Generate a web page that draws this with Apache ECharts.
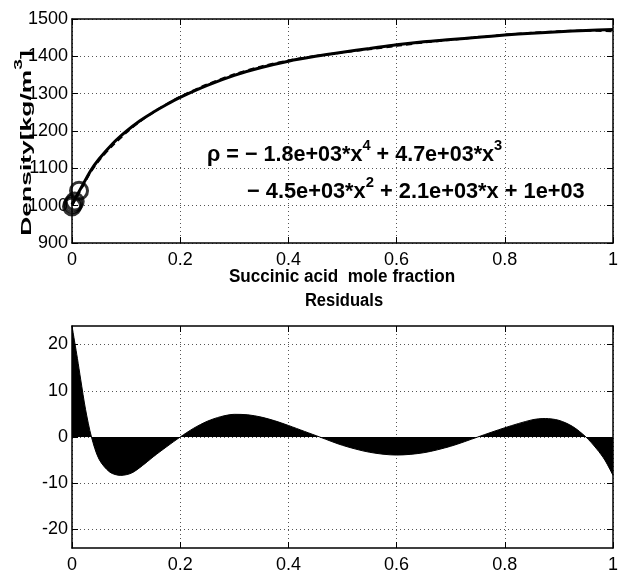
<!DOCTYPE html>
<html><head><meta charset="utf-8">
<script src="https://cdn.jsdelivr.net/npm/echarts@6/dist/echarts.min.js"></script>
<style>html,body{margin:0;padding:0;background:#fff}#c{width:621px;height:574px}</style>
</head><body><div id="c"></div>
<script>
// ---- data ----
const fitX = [0, 0.01, 0.02, 0.035, 0.05, 0.075, 0.1, 0.125, 0.15, 0.175, 0.2, 0.25, 0.3, 0.35, 0.4, 0.45, 0.5, 0.55, 0.6, 0.65, 0.7, 0.75, 0.8, 0.85, 0.9, 0.95, 1.0];
const fitY = [1003, 1030, 1056, 1095, 1125, 1166, 1199, 1227, 1250, 1271, 1290, 1322, 1349, 1370, 1387, 1400, 1411, 1421, 1431, 1439, 1445, 1451, 1457, 1462, 1466, 1469, 1472];
const dataX = [0, 0.01, 0.02, 0.035, 0.05, 0.075, 0.1, 0.125, 0.15, 0.175, 0.2, 0.25, 0.3, 0.35, 0.4, 0.45, 0.5, 0.55, 0.6, 0.65, 0.7, 0.75, 0.8, 0.85, 0.9, 0.95, 1.0];
const dataY = [1000, 1026, 1052, 1091, 1121, 1161, 1195, 1225, 1250, 1272, 1292, 1325, 1352, 1373, 1389, 1401, 1410, 1419, 1428, 1437, 1444, 1451, 1458, 1463, 1467, 1469, 1467];
const circleX = [0, 0.002, 0.005, 0.013];
const circleY = [998, 1004, 1011, 1040];
const residX = [0, 0.005, 0.01, 0.016, 0.025, 0.036, 0.05, 0.07, 0.09, 0.11, 0.13, 0.15, 0.175, 0.2, 0.225, 0.25, 0.275, 0.3, 0.325, 0.35, 0.375, 0.4, 0.43, 0.458, 0.5, 0.55, 0.6, 0.65, 0.7, 0.75, 0.8, 0.85, 0.875, 0.9, 0.925, 0.95, 0.97, 0.985, 1.0];
const residY = [24, 20.5, 17, 12.5, 6, 0, -4.8, -7.6, -8.3, -7.8, -6.2, -4.3, -2.1, 0, 1.9, 3.4, 4.4, 4.9, 4.8, 4.3, 3.5, 2.5, 1.2, 0, -1.8, -3.3, -3.9, -3.4, -2.0, 0, 2.0, 3.7, 4.0, 3.6, 2.3, 0, -2.6, -5.0, -8.3];
const residTicks = [-20, -10, 0, 10, 20];
const xLabel = 'Succinic acid  mole fraction';
const residTitle = 'Residuals';

const FONT = "'Liberation Sans', Arial, Helvetica, sans-serif";
const zip = (a, b) => a.map((v, i) => [v, b[i]]);
const gridLine = {show: true, lineStyle: {color: '#555', type: [1, 3], width: 1}};
const fmt = v => String(v);

function xAx(grid, pos, labels) {
  return {type: 'value', gridIndex: grid, position: pos, min: 0, max: 1, interval: 0.2,
    axisLine: {show: true, onZero: false, lineStyle: {color: '#000', width: 1.5}},
    axisTick: {show: true, inside: true, length: 6, lineStyle: {color: '#000', width: 1}},
    axisLabel: {show: labels, color: '#000', fontSize: 18, fontFamily: FONT, margin: 8, formatter: fmt},
    splitLine: labels ? gridLine : {show: false}};
}
function yAx(grid, pos, labels, extra) {
  return Object.assign({type: 'value', gridIndex: grid, position: pos,
    axisLine: {show: true, onZero: false, lineStyle: {color: '#000', width: 1.5}},
    axisTick: {show: true, inside: true, length: 6, lineStyle: {color: '#000', width: 1}},
    axisLabel: {show: labels, color: '#000', fontSize: 18, fontFamily: FONT, margin: 4, formatter: fmt},
    splitLine: labels ? gridLine : {show: false}}, extra);
}
const topY = {min: 900, max: 1500, interval: 100};
function botY() {
  return {min: -24, max: 24, interval: 2};
}

const supRich = (mSize, mLH, sSize) => ({
  m: {fontSize: mSize, fontWeight: 'bold', fontFamily: FONT, fill: '#000', lineHeight: mLH, verticalAlign: 'bottom'},
  s: {fontSize: sSize, fontWeight: 'bold', fontFamily: FONT, fill: '#000', lineHeight: sSize, verticalAlign: 'top'}
});

const chart = echarts.init(document.getElementById('c'), null, {renderer: 'canvas'});
const option = {
  animation: false,
  backgroundColor: '#fff',
  grid: [
    {left: 72, right: 4, top: 19, height: 224},
    {left: 72, right: 4, top: 326, height: 222}
  ],
  xAxis: [xAx(0, 'bottom', true), xAx(0, 'top', false), xAx(1, 'bottom', true), xAx(1, 'top', false)],
  yAxis: [
    yAx(0, 'left', true, topY),
    yAx(0, 'right', false, topY),
    (() => { const a = yAx(1, 'left', true, botY());
      a.axisLabel.customValues = residTicks; a.axisTick.customValues = residTicks; return a; })(),
    (() => { const a = yAx(1, 'right', false, botY());
      a.axisTick.customValues = residTicks; return a; })()
  ],
  series: [
    {type: 'line', xAxisIndex: 0, yAxisIndex: 0, data: zip(dataX, dataY), showSymbol: false, smooth: 0.3,
      lineStyle: {color: '#000', width: 2, type: [6, 4]}, z: 3},
    {type: 'line', xAxisIndex: 0, yAxisIndex: 0, data: zip(fitX, fitY), showSymbol: false, smooth: 0.3,
      lineStyle: {color: '#000', width: 3}, z: 4},
    {type: 'scatter', xAxisIndex: 0, yAxisIndex: 0, data: zip(circleX, circleY), symbol: 'circle', symbolSize: 17,
      itemStyle: {color: 'rgba(0,0,0,0)', borderColor: '#000', borderWidth: 3}, z: 5},
    {type: 'line', xAxisIndex: 2, yAxisIndex: 2, data: zip(residX, residY), showSymbol: false, smooth: 0.3,
      lineStyle: {color: '#000', width: 1}, areaStyle: {color: '#000', opacity: 1, origin: 0}, z: 3}
  ],
  graphic: [
    {type: 'text', x: 342, y: 277, scaleX: 0.95, z: 10,
      style: {text: xLabel, font: 'bold 18px ' + FONT, fill: '#000', align: 'center', verticalAlign: 'middle'}},
    {type: 'text', x: 344, y: 301, scaleX: 0.92, z: 10,
      style: {text: residTitle, font: 'bold 18px ' + FONT, fill: '#000', align: 'center', verticalAlign: 'middle'}},
    {type: 'text', x: 24, y: 143, rotation: Math.PI / 2, scaleX: 1.47, scaleY: 0.85, z: 10,
      style: {text: '{m|Density[kg/m}{s|3}{m|]}', align: 'center', verticalAlign: 'middle', rich: supRich(18, 24, 13)}},
    {type: 'text', x: 207, y: 152, scaleX: 0.98, z: 10,
      style: {text: '{m|\u03c1 = \u2212 1.8e+03*x}{s|4}{m| + 4.7e+03*x}{s|3}', align: 'left', verticalAlign: 'middle',
        rich: supRich(22, 27, 15)}},
    {type: 'text', x: 247, y: 189, scaleX: 0.99, z: 10,
      style: {text: '{m|\u2212 4.5e+03*x}{s|2}{m| + 2.1e+03*x + 1e+03}', align: 'left', verticalAlign: 'middle',
        rich: supRich(22, 27, 15)}}
  ]
};
chart.setOption(option);
</script>
</body></html>
